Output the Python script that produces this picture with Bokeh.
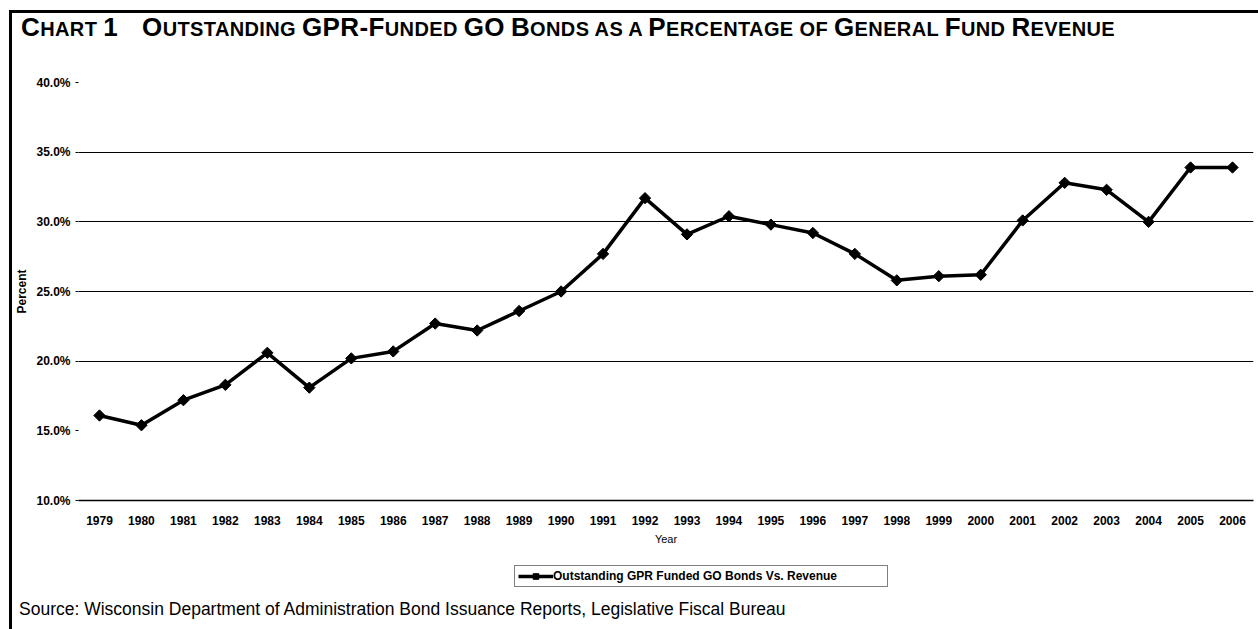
from bokeh.plotting import figure
from bokeh.models import (FactorRange, Range1d, FixedTicker, PrintfTickFormatter,
                          Legend, LegendItem, Div)
from bokeh.layouts import column
from bokeh.embed import file_html
from bokeh.resources import INLINE

# Fiscal years (categories) and GPR-funded GO bonds as % of general fund revenue
years = ["1979", "1980", "1981", "1982", "1983", "1984", "1985", "1986", "1987",
         "1988", "1989", "1990", "1991", "1992", "1993", "1994", "1995", "1996",
         "1997", "1998", "1999", "2000", "2001", "2002", "2003", "2004", "2005",
         "2006"]
pct = [16.1, 15.4, 17.2, 18.3, 20.6, 18.1, 20.2, 20.7, 22.7, 22.2, 23.6, 25.0,
       27.7, 31.7, 29.1, 30.4, 29.8, 29.2, 27.7, 25.8, 26.1, 26.2, 30.1, 32.8,
       32.3, 30.0, 33.9, 33.9]

y_ticks = [10, 15, 20, 25, 30, 35, 40]
grid_ticks = [20, 25, 30, 35]
series_name = "Outstanding GPR Funded GO Bonds Vs. Revenue"
source_text = ("Source: Wisconsin Department of Administration Bond Issuance "
               "Reports, Legislative Fiscal Bureau")

# Title in small caps: (text, is_large_capital)
title_runs = [("C", True), ("HART ", False), ("1", True), ("O", True),
              ("UTSTANDING ", False), ("GPR-F", True), ("UNDED ", False),
              ("GO", True), (" ", False), ("B", True), ("ONDS AS A ", False),
              ("P", True), ("ERCENTAGE OF ", False), ("G", True),
              ("ENERAL ", False), ("F", True), ("UND ", False), ("R", True),
              ("EVENUE", False)]

FONT = "'Liberation Sans', Arial, Helvetica, sans-serif"

spans = []
for txt, big in title_runs:
    size = 26 if big else 20
    extra = "margin-left:24px;" if txt == "O" else ""
    spans.append(f'<span style="font-size:{size}px;{extra}">{txt}</span>')
title_html = (f'<div style="font-family:{FONT};font-weight:bold;white-space:nowrap;'
              f'letter-spacing:0.38px;line-height:26px;padding-left:9px;padding-top:1px;'
              f'color:#000;">' + "".join(spans) + "</div>")

title_div = Div(text=title_html, width=1246, height=35, margin=0)

# Main chart
p = figure(width=1246, height=499,
           x_range=FactorRange(*years, range_padding=0),
           y_range=Range1d(10, 40),
           output_backend="svg", toolbar_location=None,
           min_border_left=65, min_border_right=5,
           min_border_top=34, min_border_bottom=45,
           background_fill_color="white", border_fill_color="white",
           outline_line_color=None, margin=0)

line_style = dict(line_color="black", line_width=3.5)
marker_style = dict(marker="square", angle=0.785398, size=8,
                    fill_color="black", line_color="black", line_width=1)

p.line(years, pct, **line_style)
p.scatter(years, pct, **marker_style)

p.xaxis.axis_line_color = "black"
p.xaxis.axis_line_width = 1.5
p.xaxis.major_tick_line_color = None
p.xaxis.minor_tick_line_color = None
p.xaxis.major_label_standoff = 9
p.xaxis.major_label_text_font = "Liberation Sans"
p.xaxis.major_label_text_font_style = "bold"
p.xaxis.major_label_text_font_size = "12px"
p.xaxis.major_label_text_color = "black"
p.xaxis.axis_label = "Year"
p.xaxis.axis_label_text_font = "Liberation Sans"
p.xaxis.axis_label_text_font_style = "normal"
p.xaxis.axis_label_text_font_size = "11px"
p.xaxis.axis_label_text_color = "black"
p.xaxis.axis_label_standoff = 5

p.yaxis.ticker = FixedTicker(ticks=y_ticks)
p.yaxis.formatter = PrintfTickFormatter(format="%.1f%%")
p.yaxis.axis_line_color = None
p.yaxis.major_tick_out = 3
p.yaxis.major_tick_in = 0
p.yaxis.major_tick_line_color = "black"
p.yaxis.minor_tick_line_color = None
p.yaxis.major_label_standoff = 5
p.yaxis.major_label_text_font = "Liberation Sans"
p.yaxis.major_label_text_font_style = "bold"
p.yaxis.major_label_text_font_size = "12px"
p.yaxis.major_label_text_color = "black"
p.yaxis.axis_label = "Percent"
p.yaxis.axis_label_text_font = "Liberation Sans"
p.yaxis.axis_label_text_font_style = "bold"
p.yaxis.axis_label_text_font_size = "12px"
p.yaxis.axis_label_text_color = "black"
p.yaxis.axis_label_standoff = 4

p.xgrid.grid_line_color = None
p.ygrid.ticker = FixedTicker(ticks=grid_ticks)
p.ygrid.grid_line_color = "black"
p.ygrid.grid_line_width = 1

# Legend strip under the chart: same series, drawn outside its visible range
lg = figure(width=1246, height=48,
            x_range=FactorRange(*years, range_padding=0),
            y_range=Range1d(0, 1),
            output_backend="svg", toolbar_location=None,
            x_axis_location=None, y_axis_location=None,
            min_border=0, min_border_left=0, min_border_right=0,
            min_border_top=0, min_border_bottom=0,
            background_fill_color="white", border_fill_color="white",
            outline_line_color=None, margin=0)
lg.xgrid.visible = False
lg.ygrid.visible = False
lg_line = lg.line(years, pct, **line_style)
lg_mark = lg.scatter(years, pct, **marker_style)

legend = Legend(items=[LegendItem(label=series_name, renderers=[lg_line, lg_mark])],
                location=(436, 8), orientation="horizontal",
                margin=0, padding=3, spacing=0,
                glyph_width=35, glyph_height=14, label_height=14,
                label_width=331, label_standoff=0,
                label_text_font="Liberation Sans", label_text_font_style="bold",
                label_text_font_size="12px", label_text_color="black",
                border_line_color="black", border_line_width=1,
                background_fill_color="white", background_fill_alpha=1)
lg.add_layout(legend)

source_div = Div(
    text=(f'<div style="font-family:{FONT};font-size:17.5px;line-height:18px;'
          f'padding-left:7px;padding-top:5px;white-space:nowrap;color:#000;">'
          f'{source_text}</div>'),
    width=1246, height=34, margin=0)

page = column(title_div, p, lg, source_div,
              styles={"margin-left": "9px", "margin-top": "10px",
                      "border-left": "3px solid black",
                      "border-top": "3px solid black"})

open("out.html", "w").write(file_html(page, INLINE))
